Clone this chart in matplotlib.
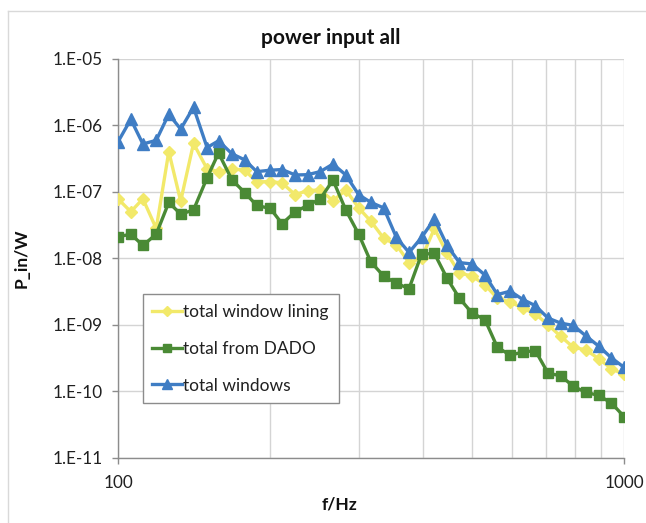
import math
import matplotlib
matplotlib.use("Agg")
import matplotlib.pyplot as plt
from matplotlib.lines import Line2D
from matplotlib.ticker import FuncFormatter, FixedLocator, NullFormatter

plt.rcParams['font.family'] = ['Lato', 'DejaVu Sans']

# 1/12-octave band centre frequencies (Hz)
freq = [100, 106, 112, 119, 126, 133, 141, 150, 158, 168, 178, 188, 200, 211,
        224, 237, 251, 266, 282, 299, 316, 335, 355, 376, 398, 422, 447, 473,
        501, 531, 562, 596, 631, 668, 708, 750, 794, 841, 891, 944, 1000]

window_lining = [7.8e-8, 5.0e-8, 7.8e-8, 2.8e-8, 4.0e-7, 7.2e-8, 5.3e-7, 2.2e-7,
                 2.0e-7, 2.2e-7, 2.1e-7, 1.4e-7, 1.42e-7, 1.35e-7, 9.0e-8, 1.04e-7,
                 1.06e-7, 7.3e-8, 1.06e-7, 5.7e-8, 3.6e-8, 2.0e-8, 1.58e-8, 8.6e-9,
                 1.0e-8, 2.8e-8, 1.18e-8, 6.0e-9, 5.4e-9, 4.0e-9, 2.5e-9, 2.2e-9,
                 1.78e-9, 1.46e-9, 1.0e-9, 6.7e-10, 4.6e-10, 4.2e-10, 3.1e-10,
                 2.2e-10, 1.8e-10]

from_dado = [2.1e-8, 2.3e-8, 1.56e-8, 2.3e-8, 6.9e-8, 4.6e-8, 5.3e-8, 1.62e-7,
             3.8e-7, 1.5e-7, 9.7e-8, 6.2e-8, 5.6e-8, 3.3e-8, 5.0e-8, 6.2e-8,
             7.8e-8, 1.49e-7, 5.3e-8, 2.3e-8, 8.8e-9, 5.4e-9, 4.2e-9, 3.5e-9,
             1.15e-8, 1.18e-8, 5.0e-9, 2.5e-9, 1.5e-9, 1.2e-9, 4.6e-10, 3.5e-10,
             3.9e-10, 4.1e-10, 1.87e-10, 1.72e-10, 1.19e-10, 9.7e-11, 8.7e-11,
             6.7e-11, 4.2e-11]

windows = [5.6e-7, 1.22e-6, 5.2e-7, 5.9e-7, 1.46e-6, 8.7e-7, 1.85e-6, 4.6e-7,
           5.8e-7, 3.7e-7, 3.0e-7, 2.0e-7, 2.1e-7, 2.15e-7, 1.78e-7, 1.8e-7,
           2.0e-7, 2.6e-7, 1.78e-7, 9.0e-8, 6.9e-8, 5.7e-8, 2.05e-8, 1.22e-8,
           2.05e-8, 3.9e-8, 1.56e-8, 8.6e-9, 8.2e-9, 5.6e-9, 2.85e-9, 3.2e-9,
           2.4e-9, 1.94e-9, 1.26e-9, 1.06e-9, 9.8e-10, 6.8e-10, 4.8e-10,
           3.2e-10, 2.3e-10]

series_labels = ['total window lining', 'total from DADO', 'total windows']
x_major = [100, 1000]
x_minor = [200, 300, 400, 500, 600, 700, 800, 900]
y_ticks = [1e-11, 1e-10, 1e-9, 1e-8, 1e-7, 1e-6, 1e-5]

W, H = 646, 523
fig = plt.figure(figsize=(W / 100, H / 100), dpi=100)
ax = fig.add_axes([118 / W, (H - 458) / H, 506 / W, 399.5 / H])

yellow = '#F2E96A'
green = '#4A8A35'
blue = '#3F7DC4'

ax.plot(freq, window_lining, color=yellow, lw=2.4, marker='D', ms=6.5,
        label=series_labels[0], zorder=3)
ax.plot(freq, from_dado, color=green, lw=2.4, marker='s', ms=7.5,
        label=series_labels[1], zorder=4)
ax.plot(freq, windows, color=blue, lw=2.4, marker='^', ms=8.5,
        label=series_labels[2], zorder=5)

ax.set_xscale('log')
ax.set_yscale('log')
ax.set_xlim(100, 1000)
ax.set_ylim(1e-11, 1e-5)

ax.xaxis.set_major_locator(FixedLocator(x_major))
ax.xaxis.set_minor_locator(FixedLocator(x_minor))
ax.xaxis.set_major_formatter(FuncFormatter(lambda v, p: f"{v:.0f}"))
ax.xaxis.set_minor_formatter(NullFormatter())
ax.yaxis.set_major_locator(FixedLocator(y_ticks))
ax.yaxis.set_minor_locator(FixedLocator([]))
ax.yaxis.set_major_formatter(
    FuncFormatter(lambda v, p: "1.E" + f"{int(round(math.log10(v))):03d}"))

grid_c = '#D4D4D4'
ax.grid(True, which='major', color=grid_c, lw=1.0, zorder=0)
ax.grid(True, which='minor', axis='x', color=grid_c, lw=1.0, zorder=0)
ax.set_axisbelow(True)

for s in ['top', 'right']:
    ax.spines[s].set_visible(False)
for s in ['left', 'bottom']:
    ax.spines[s].set_color('#8C8C8C')
    ax.spines[s].set_linewidth(1.0)

ax.tick_params(axis='both', which='major', direction='out', length=4,
               width=1, color='#8C8C8C', labelsize=12.3, labelcolor='#202020')
ax.tick_params(axis='y', pad=7)
ax.tick_params(axis='x', pad=8)
ax.tick_params(axis='x', which='minor', length=0)

leg = ax.legend(loc='upper left', bbox_to_anchor=((142.7 - 118) / 506, (458 - 294.3) / 399.5),
                borderaxespad=0, fancybox=False, framealpha=1, edgecolor='#8C8C8C',
                fontsize=12.5, labelspacing=1.2, handlelength=1.7, handletextpad=0.1,
                borderpad=0.55, markerscale=0.8)
leg.get_frame().set_linewidth(1.0)
for t in leg.get_texts():
    t.set_color('#202020')

fig.text(331 / W, 1 - 38 / H, 'power input all', ha='center', va='center',
         fontsize=15, fontweight='bold', color='#111111')
fig.text(340 / W, 1 - 505 / H, 'f/Hz', ha='center', va='center',
         fontsize=12.5, fontweight='bold', color='#111111')
fig.text(22 / W, 1 - 258 / H, 'P_in/W', ha='center', va='center', rotation=90,
         fontsize=12.5, fontweight='bold', color='#111111')

# light outer chart border (left and top edges)
fig.add_artist(Line2D([7.5 / W, 7.5 / W], [0, 1 - 11 / H], transform=fig.transFigure,
                      color='#D9D9D9', lw=1.0))
fig.add_artist(Line2D([7.5 / W, 1], [1 - 11 / H, 1 - 11 / H], transform=fig.transFigure,
                      color='#D9D9D9', lw=1.0))

fig.savefig('out.png', dpi=100, facecolor='white')
